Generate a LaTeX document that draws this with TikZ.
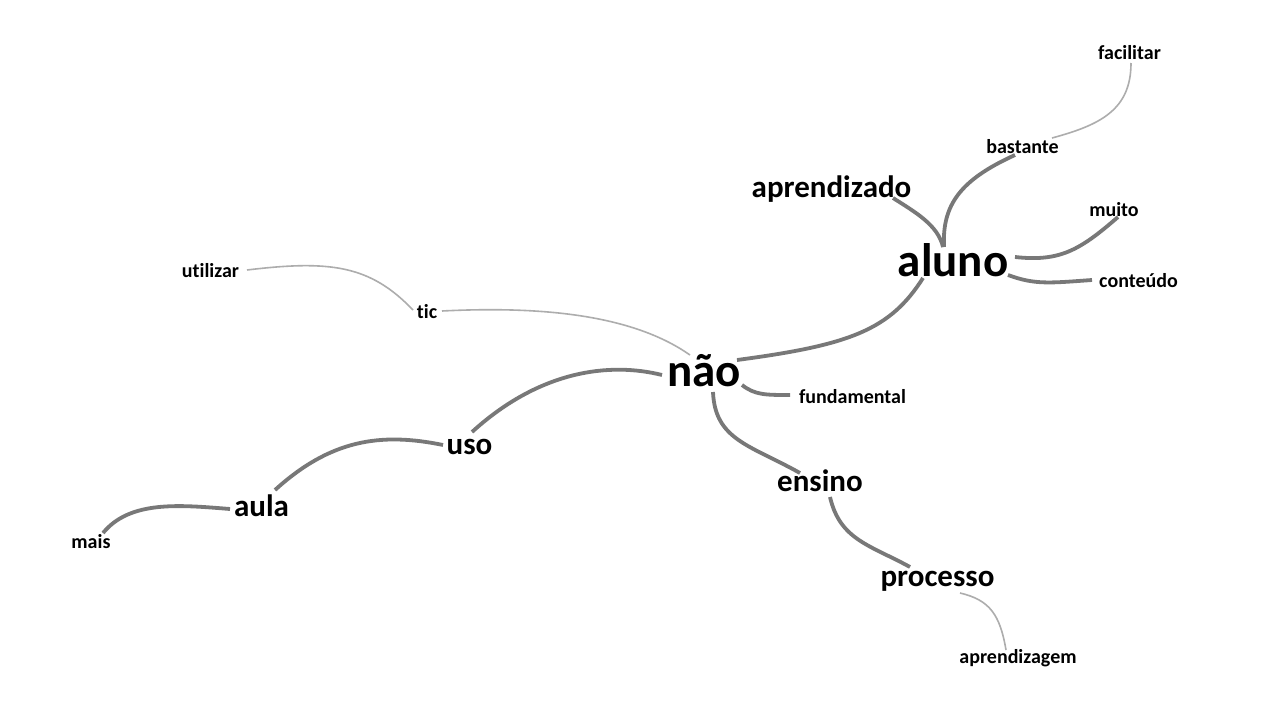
\documentclass[tikz,border=0pt]{standalone}
\usepackage{fontspec}
\setmainfont{Carlito}[Ligatures={NoCommon},RawFeature={-liga;-clig}]
\begin{document}
\begin{tikzpicture}[x=1pt,y=-1pt,
  word/.style={inner sep=0pt,anchor=base,text=black,font=\bfseries},
  big/.style={word,font=\bfseries\fontsize{47}{50}\selectfont},
  mid/.style={word,font=\bfseries\fontsize{31}{34}\selectfont},
  small/.style={word,font=\bfseries\fontsize{20}{23}\selectfont},
  strong/.style={draw=black!53,line width=3.8pt},
  weak/.style={draw=black!32,line width=1.6pt}]
\useasboundingbox[fill=white] (0,0) rectangle (1280,720);
% nodes
\node[small] (facilitar) at (1129.5,59) {facilitar};
\node[small] (bastante) at (1022.5,153) {bastante};
\node[mid] (aprendizado) at (831.5,197) {aprendizado};
\node[small] (muito) at (1114,216) {muito};
\node[big] (aluno) at (953,276) {aluno};
\node[small] (conteudo) at (1138.5,287) {conteúdo};
\node[small] (utilizar) at (210.5,277) {utilizar};
\node[small] (tic) at (427,318) {tic};
\node[big] (nao) at (704,386) {não};
\node[small] (fundamental) at (852.5,403) {fundamental};
\node[mid] (uso) at (469.5,454) {uso};
\node[mid] (ensino) at (820,491) {ensino};
\node[mid] (aula) at (261.5,516) {aula};
\node[small] (mais) at (91,548) {mais};
\node[mid] (processo) at (937.5,586) {processo};
\node[small] (aprendizagem) at (1018,663) {aprendizagem};
% connectors
\draw[weak] ([shift={(1.5,4)}]facilitar.base) .. controls (1131,110) and (1100,125) .. ([shift={(29.5,-15)}]bastante.base);
\draw[strong] ([shift={(-7.5,2)}]bastante.base) .. controls (960,180) and (942,205) .. ([shift={(-9,-29)}]aluno.base);
\draw[strong] ([shift={(61.5,1)}]aprendizado.base) .. controls (915,212) and (938,225) .. ([shift={(-10,-29)}]aluno.base);
\draw[strong] ([shift={(62,-19)}]aluno.base) .. controls (1060,262) and (1080,250) .. ([shift={(4,1)}]muito.base);
\draw[strong] ([shift={(55,-1)}]aluno.base) .. controls (1035,285) and (1050,283) .. ([shift={(-46.5,-7)}]conteudo.base);
\draw[strong] ([shift={(-30,2)}]aluno.base) .. controls (890,330) and (850,345) .. ([shift={(33,-26)}]nao.base);
\draw[weak] ([shift={(36.5,-7)}]utilizar.base) .. controls (330,260) and (370,265) .. ([shift={(-14,-8)}]tic.base);
\draw[weak] ([shift={(15,-7)}]tic.base) .. controls (560,305) and (640,320) .. ([shift={(-14,-31)}]nao.base);
\draw[strong] ([shift={(-42,-11)}]nao.base) .. controls (610,362) and (540,370) .. ([shift={(2.5,-22)}]uso.base);
\draw[strong] ([shift={(38,-1)}]nao.base) .. controls (755,395) and (765,395) .. ([shift={(-62.5,-8)}]fundamental.base);
\draw[strong] ([shift={(9,6)}]nao.base) .. controls (715,440) and (750,445) .. ([shift={(-20,-18)}]ensino.base);
\draw[strong] ([shift={(-26.5,-9)}]uso.base) .. controls (380,432) and (330,440) .. ([shift={(13.5,-26)}]aula.base);
\draw[strong] ([shift={(-31.5,-7)}]aula.base) .. controls (180,505) and (130,500) .. ([shift={(12,-15)}]mais.base);
\draw[strong] ([shift={(10,6)}]ensino.base) .. controls (840,540) and (870,545) .. ([shift={(-27.5,-19)}]processo.base);
\draw[weak] ([shift={(22.5,7)}]processo.base) .. controls (990,600) and (1000,615) .. ([shift={(-12,-13)}]aprendizagem.base);
\end{tikzpicture}
\end{document}
